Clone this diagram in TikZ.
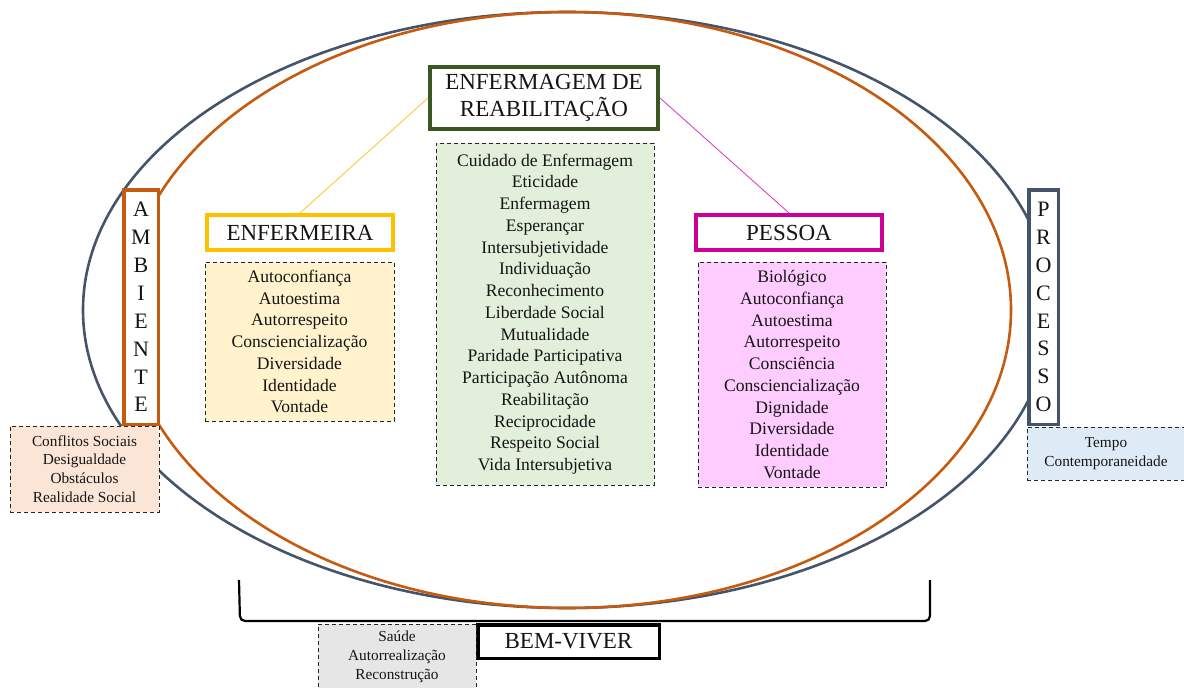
\documentclass[tikz,border=0pt]{standalone}
\usepackage{fontspec}
\setmainfont{Liberation Serif}
\usetikzlibrary{calc}

\definecolor{slate}{HTML}{44546A}
\definecolor{rust}{HTML}{C55A11}
\definecolor{leaf}{HTML}{385723}
\definecolor{gold}{HTML}{FFC000}
\definecolor{berry}{HTML}{CC0099}
\definecolor{goldline}{HTML}{FFC83C}
\definecolor{berryline}{HTML}{DD44BB}
\definecolor{fillgold}{HTML}{FFF2CC}
\definecolor{fillleaf}{HTML}{E2EFDA}
\definecolor{fillberry}{HTML}{FFCCFF}
\definecolor{fillrust}{HTML}{FBE5D6}
\definecolor{fillslate}{HTML}{DEEBF7}
\definecolor{fillgrey}{HTML}{E7E6E6}
\definecolor{ink}{HTML}{151515}

\tikzset{
  titlebox/.style={draw, fill=white, line width=3.5pt, inner sep=0pt, align=center,
    text=ink, font=\fontsize{23}{27}\selectfont},
  letterbox/.style={draw, fill=white, line width=3.5pt, inner sep=0pt, align=center,
    text=ink, font=\fontsize{22}{27.9}\selectfont},
  listbox/.style={draw=black!85, dash pattern=on 4pt off 3pt, line width=0.9pt,
    inner sep=0pt, align=center, text=ink, font=\fontsize{17.6}{21.75}\selectfont},
  smallbox/.style={listbox, font=\fontsize{15.3}{18.8}\selectfont},
  ring/.style={line width=2.6pt},
  link/.style={line width=0.9pt},
}

\begin{document}
\begin{tikzpicture}[x=1pt,y=-1pt]
\useasboundingbox (0,0) rectangle (1184,688);

% the two enclosing ellipses
\draw[ring, slate] (567,310) ellipse [x radius=484, y radius=298];
\draw[ring, rust]  (568,310) ellipse [x radius=443, y radius=298];

% bracket over BEM-VIVER
\coordinate (b1) at (239,580);
\coordinate (b2) at (240,621);
\coordinate (b3) at (930,621);
\coordinate (b4) at (930,580);
\draw[line width=2.2pt, rounded corners=5pt] (b1) -- (b2) -- (b3) -- (b4);

% side boxes
\node[letterbox, draw=rust, minimum width=34.5pt, minimum height=234.5pt] (amb) at (141,307)
  {A\\M\\B\\I\\E\\N\\T\\E};
\node[letterbox, draw=slate, minimum width=29.5pt, minimum height=234.5pt] (proc) at (1043.5,307)
  {P\\R\\O\\C\\E\\S\\S\\O};

% title boxes
\node[titlebox, draw=leaf, line width=4pt, minimum width=228pt, minimum height=62pt] (top) at (544,98)
  {ENFERMAGEM DE\\REABILITAÇÃO};
\node[titlebox, draw=gold, line width=4pt, minimum width=186pt, minimum height=35pt] (enf) at (300,232.5)
  {ENFERMEIRA};
\node[titlebox, draw=berry, line width=4pt, minimum width=186pt, minimum height=35pt] (pes) at (789,232.5)
  {PESSOA};
\node[titlebox, draw=black, minimum width=181.5pt, minimum height=33.5pt] (bem) at (568.5,641.5)
  {BEM-VIVER};

% connectors
\draw[link, goldline] (enf.north) -- (top.west);
\draw[link, berryline] (top.east) -- (pes.north);

% attribute lists
\node[listbox, fill=fillgold, minimum width=189pt, minimum height=159pt] (enflist) at (299.5,341.5)
  {Autoconfiança\\Autoestima\\Autorrespeito\\Consciencialização\\Diversidade\\Identidade\\Vontade};
\node[listbox, fill=fillleaf, minimum width=218pt, minimum height=342pt] (toplist) at (545,314)
  {Cuidado de Enfermagem\\Eticidade\\Enfermagem\\Esperançar\\Intersubjetividade\\Individuação\\Reconhecimento\\Liberdade Social\\Mutualidade\\Paridade Participativa\\Participação Autônoma\\Reabilitação\\Reciprocidade\\Respeito Social\\Vida Intersubjetiva};
\node[listbox, fill=fillberry, minimum width=188pt, minimum height=225pt] (peslist) at (792,374.5)
  {Biológico\\Autoconfiança\\Autoestima\\Autorrespeito\\Consciência\\Consciencialização\\Dignidade\\Diversidade\\Identidade\\Vontade};
\node[smallbox, fill=fillrust, minimum width=149pt, minimum height=86pt] (amblist) at (84.5,469)
  {Conflitos Sociais\\Desigualdade\\Obstáculos\\Realidade Social};
\node[smallbox, fill=fillslate, minimum width=158pt, minimum height=53pt] (proclist) at (1106,453.5)
  {Tempo\\Contemporaneidade};
\node[smallbox, fill=fillgrey, minimum width=158pt, minimum height=66pt] (bemlist) at (397,657)
  {Saúde\\Autorrealização\\Reconstrução};
\end{tikzpicture}
\end{document}
